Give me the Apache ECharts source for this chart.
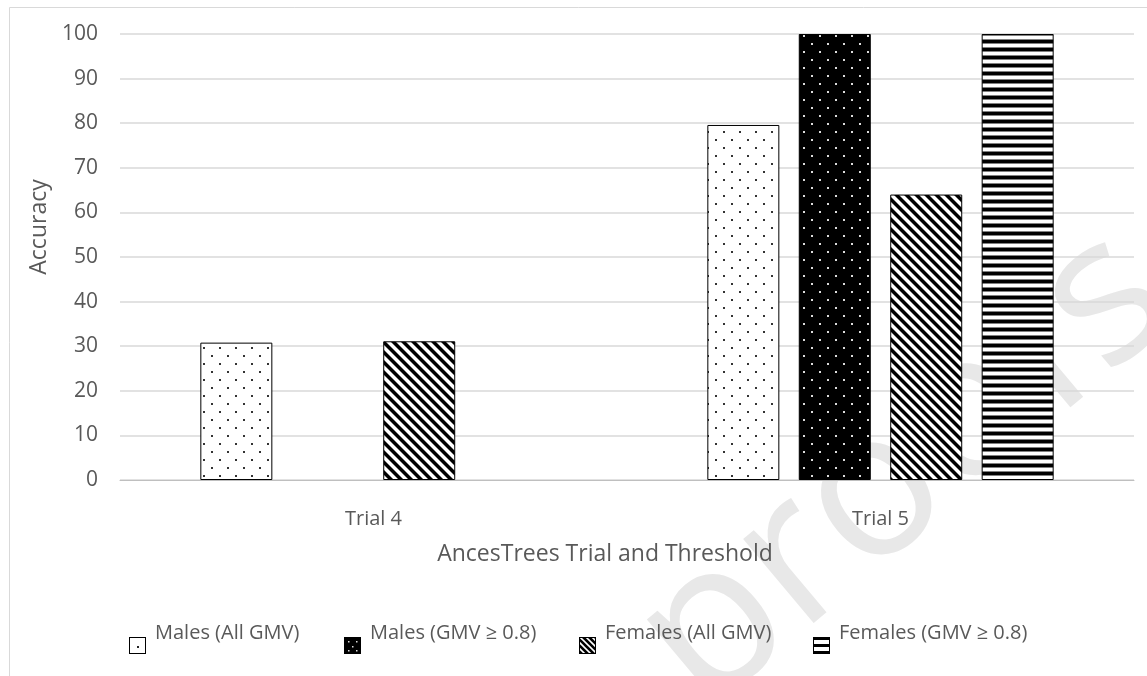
<!DOCTYPE html>
<html>
<head>
<meta charset="utf-8">
<script src="https://cdn.jsdelivr.net/npm/echarts@6/dist/echarts.min.js"></script>
<style>
  html, body { margin: 0; padding: 0; background: #ffffff; }
  #chart { width: 1147px; height: 676px; }
</style>
</head>
<body>
<div id="chart"></div>
<script>
// ---- data ----
const categories = ['Trial 4', 'Trial 5'];
const seriesNames = ['Males (All GMV)', 'Males (GMV ≥ 0.8)', 'Females (All GMV)', 'Females (GMV ≥ 0.8)'];
const malesAll = [30.8, 79.6];
const malesHigh = [null, 100];
const femalesAll = [31.1, 64.0];
const femalesHigh = [null, 100];
const yMin = 0, yMax = 100, yStep = 10;

const FONT = '"Open Sans", "Liberation Sans", sans-serif';
const TEXT = '#595959';

// ---- hatch tiles ----
function tile(w, h, draw) {
  const c = document.createElement('canvas');
  c.width = w; c.height = h;
  draw(c.getContext('2d'), w, h);
  return c;
}
const dotsLight = tile(16, 16, (g) => {
  g.fillStyle = '#ffffff'; g.fillRect(0, 0, 16, 16);
  g.fillStyle = '#333333'; g.fillRect(3, 3, 2, 2); g.fillRect(11, 11, 2, 2);
});
const dotsDark = tile(16, 16, (g) => {
  g.fillStyle = '#000000'; g.fillRect(0, 0, 16, 16);
  g.fillStyle = '#dddddd'; g.fillRect(3, 3, 2, 2); g.fillRect(11, 11, 2, 2);
});
const diagonal = tile(10, 10, (g) => {
  const img = g.createImageData(10, 10);
  for (let y = 0; y < 10; y++) for (let x = 0; x < 10; x++) {
    const d = ((x - y) % 10 + 10) % 10;
    const v = d < 4 ? 0 : (d === 4 || d === 9 ? 128 : 255);
    const i = (y * 10 + x) * 4;
    img.data[i] = img.data[i + 1] = img.data[i + 2] = v; img.data[i + 3] = 255;
  }
  g.putImageData(img, 0, 0);
});
const horizontal = tile(4, 8, (g) => {
  const rows = [0, 0, 0, 128, 255, 255, 255, 128];
  rows.forEach((v, y) => { g.fillStyle = `rgb(${v},${v},${v})`; g.fillRect(0, y, 4, 1); });
});
const fills = [dotsLight, dotsDark, diagonal, horizontal];

// ---- legend swatches (square sits low, beside the label) ----
function swatch(kind) {
  const c = document.createElement('canvas');
  c.width = 21; c.height = 42;
  const g = c.getContext('2d');
  const x0 = 0, y0 = 25, s = 17;
  g.save();
  g.beginPath(); g.rect(x0, y0, s, s); g.clip();
  if (kind === 0) {
    g.fillStyle = '#fff'; g.fillRect(x0, y0, s, s);
    g.fillStyle = '#222'; g.fillRect(x0 + 8, y0 + 9, 2, 2);
  } else if (kind === 1) {
    g.fillStyle = '#000'; g.fillRect(x0, y0, s, s);
    g.fillStyle = '#ddd';
    [[4, 4], [12, 4], [8, 9], [4, 13], [12, 13]].forEach(([a, b]) => g.fillRect(x0 + a, y0 + b, 1.5, 1.5));
  } else if (kind === 2) {
    g.fillStyle = '#fff'; g.fillRect(x0, y0, s, s);
    g.strokeStyle = '#000'; g.lineWidth = 2.6;
    for (let k = -20; k < 30; k += 6) {
      g.beginPath(); g.moveTo(x0 + k, y0); g.lineTo(x0 + k + s, y0 + s); g.stroke();
    }
  } else {
    g.fillStyle = '#fff'; g.fillRect(x0, y0, s, s);
    g.fillStyle = '#000';
    g.fillRect(x0, y0, s, 3); g.fillRect(x0, y0 + 7, s, 3); g.fillRect(x0, y0 + 14, s, 3);
  }
  g.restore();
  g.strokeStyle = '#000'; g.lineWidth = 1;
  g.strokeRect(x0 + 0.5, y0 + 0.5, s - 1, s - 1);
  return 'image://' + c.toDataURL();
}

const seriesData = [malesAll, malesHigh, femalesAll, femalesHigh];
const legendLeft = [129, 344, 579, 813];

const chart = echarts.init(document.getElementById('chart'), null, { renderer: 'canvas' });
chart.setOption({
  animation: false,
  backgroundColor: '#ffffff',
  textStyle: { fontFamily: FONT },
  grid: { left: 120, right: 13, top: 34, bottom: 196, containLabel: false },
  xAxis: {
    type: 'category',
    data: categories,
    axisLine: { lineStyle: { color: '#bfbfbf', width: 1 } },
    axisTick: { show: false },
    axisLabel: { color: TEXT, fontSize: 20, fontFamily: FONT, margin: 29 },
    name: 'AncesTrees Trial and Threshold',
    nameLocation: 'middle',
    nameGap: 63,
    nameTextStyle: { color: TEXT, fontSize: 23, fontFamily: FONT, padding: [0, 44, 0, 0] }
  },
  yAxis: {
    type: 'value',
    min: yMin, max: yMax, interval: yStep,
    axisLine: { show: false },
    axisTick: { show: false },
    splitLine: { lineStyle: { color: '#d9d9d9', width: 1.5 } },
    axisLabel: { color: TEXT, fontSize: 21, fontFamily: FONT, margin: 22 },
    name: 'Accuracy',
    nameLocation: 'middle',
    nameGap: 68,
    nameTextStyle: { color: TEXT, fontSize: 23, fontFamily: FONT, padding: [0, 0, 0, 60] }
  },
  legend: seriesNames.map((n, i) => ({
    data: [{ name: n, icon: swatch(i) }],
    left: legendLeft[i],
    top: 612,
    padding: 0,
    itemWidth: 21,
    itemHeight: 42,
    selectedMode: false,
    textStyle: { color: TEXT, fontSize: 20, fontFamily: FONT }
  })),
  graphic: [
    {
      type: 'rect', z: -20, silent: true,
      shape: { x: 9.5, y: 7.5, width: 1200, height: 700 },
      style: { fill: 'none', stroke: '#d9d9d9', lineWidth: 1 }
    },
    {
      type: 'text', z: -10, silent: true,
      x: 905, y: 470, rotation: Math.PI * 40 / 180,
      style: {
        text: 'proofs', fill: '#e8e8e8',
        font: '205px "Open Sans", sans-serif',
        align: 'center', verticalAlign: 'middle'
      }
    }
  ],
  series: seriesNames.map((n, i) => ({
    name: n,
    type: 'bar',
    data: seriesData[i],
    barWidth: 72,
    barGap: '27%',
    itemStyle: {
      color: { image: fills[i], repeat: 'repeat' },
      borderColor: '#000000',
      borderWidth: 1
    }
  }))
});
</script>
</body>
</html>
